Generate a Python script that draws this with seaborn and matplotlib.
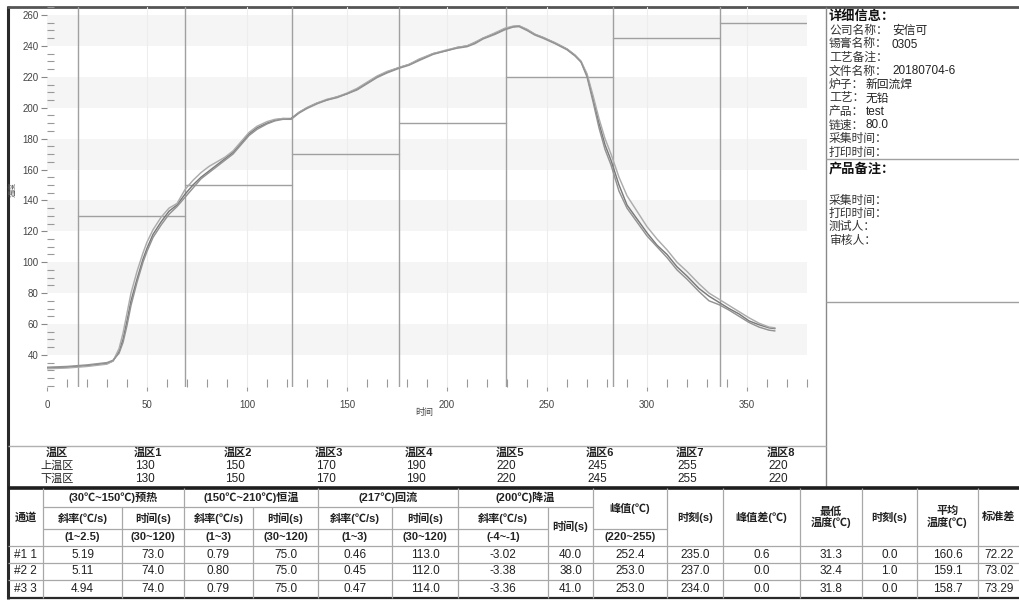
import pandas as pd
import matplotlib
matplotlib.use('Agg')
import matplotlib.pyplot as plt
import seaborn as sns
from matplotlib.ticker import MultipleLocator

sns.set_theme(style='white')
plt.rcParams['font.family'] = ['Liberation Sans', 'Noto Sans CJK SC']

# --- profile data (seconds, deg C) ---
times = [0, 10, 20, 30, 33, 36, 38, 40, 42, 45,
         48, 50, 53, 57, 61, 65, 69, 73, 77, 81,
         85, 89, 93, 97, 101, 105, 110, 114, 118, 122,
         126, 130, 135, 140, 145, 150, 155, 160, 165, 170,
         176, 181, 186, 193, 200, 205, 210, 214, 218, 224,
         229, 233, 236, 240, 244, 248, 254, 260, 264, 267,
         270, 273, 276, 279, 282, 286, 290, 295, 300, 305,
         310, 315, 320, 326, 331, 336, 341, 346, 351, 356,
         361, 364]
ch1_temp = [31.5, 32, 33, 34.5, 36, 42, 50, 62, 75, 89,
            102, 109, 118, 126, 133, 137, 144, 150, 155, 159,
            163, 167, 171, 177, 183, 187, 190, 192, 193, 193,
            197, 200, 203, 205, 207, 209, 212, 216, 220, 223,
            226, 228, 231, 235, 237, 239, 240, 242, 245, 248,
            251, 252.5, 253, 250.5, 247.5, 245.5, 242, 238, 234, 230,
            221, 206, 190, 176, 166, 150, 137, 128, 119, 111,
            105, 97, 91, 83, 78, 74, 70, 66.5, 62, 59.5,
            57.5, 57]
ch2_temp = [31, 31.5, 32.5, 34, 36, 44, 54, 67, 80, 94,
            106, 113, 121, 129, 135, 138, 147, 153, 158, 162,
            165, 168, 172, 178, 184, 188, 191, 192.5, 193, 192.5,
            197, 200, 203, 205.5, 207, 209.5, 212.5, 216.5, 220.5, 223.5,
            226, 228, 231.5, 235, 237.5, 239, 240, 242.5, 245, 248.5,
            251.5, 252.8, 253, 250.8, 247.5, 245.5, 242, 238, 234, 230,
            222, 208, 193, 180, 170, 155, 143, 133, 123, 115,
            108, 100, 94, 86, 80, 76, 72, 68, 64, 60.5,
            58, 57.5]
ch3_temp = [32, 32.5, 33.5, 35, 36.5, 41, 48, 59, 72, 87,
            100, 107, 116, 124, 131, 136, 142, 148, 154, 158,
            162, 166, 170, 176, 182, 186, 189.5, 191.5, 192.5, 192.5,
            196.5, 199.5, 202.5, 205, 206.5, 209, 211.5, 215.5, 219.5, 222.5,
            225.5, 227.5, 230.5, 234.5, 237, 238.5, 239.5, 241.5, 244.5, 247.5,
            250.5, 252.2, 252.5, 250, 247, 245, 241.5, 237.5, 233.5, 229.5,
            220, 204, 187, 173, 163, 146, 135, 126, 117, 110,
            103, 95, 89, 81, 75, 72.5, 69, 65, 61, 58,
            56, 55.5]

# zone boundaries (s) and set temperatures drawn in the chart
zone_bounds = [15.5, 69, 122.5, 176, 229.5, 283, 336.5, 380]
zone_names = ['温区1', '温区2', '温区3', '温区4', '温区5', '温区6', '温区7', '温区8']
upper_zone = [130, 150, 170, 190, 220, 245, 255, 220]
lower_zone = [130, 150, 170, 190, 220, 245, 255, 220]

# result table
channels = ['#1 1', '#2 2', '#3 3']
preheat_slope = [5.19, 5.11, 4.94]
preheat_time = [73.0, 74.0, 74.0]
soak_slope = [0.79, 0.80, 0.79]
soak_time = [75.0, 75.0, 75.0]
reflow_slope = [0.46, 0.45, 0.47]
reflow_time = [113.0, 112.0, 114.0]
cool_slope = [-3.02, -3.38, -3.36]
cool_time = [40.0, 38.0, 41.0]
peak_temp = [252.4, 253.0, 253.0]
peak_time = [235.0, 237.0, 234.0]
peak_diff = [0.6, 0.0, 0.0]
min_temp = [31.3, 32.4, 31.8]
min_time = [0.0, 1.0, 0.0]
avg_temp = [160.6, 159.1, 158.7]
std_dev = [72.22, 73.02, 73.29]

# info panel
info_items = [('公司名称', '安信可'), ('锡膏名称', '0305'), ('工艺备注', ''),
              ('文件名称', '20180704-6'), ('炉子', '新回流焊'), ('工艺', '无铅'),
              ('产品', 'test'), ('链速', '80.0'), ('采集时间', ''), ('打印时间', '')]
note_items = ['采集时间', '打印时间', '测试人', '审核人']

W, H = 1020, 601
fig = plt.figure(figsize=(W / 100, H / 100), dpi=100)
fig.patch.set_facecolor('white')

# pixel-space layer for frame, tables and panel
bg = fig.add_axes([0, 0, 1, 1])
bg.set_xlim(0, W)
bg.set_ylim(H, 0)
bg.axis('off')


def px_rect(x0, y0, x1, y1):
    return [x0 / W, 1 - y1 / H, (x1 - x0) / W, (y1 - y0) / H]


def hline(y, x0, x1, color='#9a9a9a', lw=0.9):
    bg.plot([x0, x1], [y, y], color=color, lw=lw, solid_capstyle='butt')


def vline(x, y0, y1, color='#9a9a9a', lw=0.9):
    bg.plot([x, x], [y0, y1], color=color, lw=lw, solid_capstyle='butt')


# --- profile chart ---
ax = fig.add_axes(px_rect(47, 7, 807, 387))
ax.set_facecolor('none')
ax.set_xlim(0, 380)
ax.set_ylim(19.2, 265.2)

for lo in [40, 80, 120, 160, 200, 240]:
    ax.axhspan(lo, lo + 20, color='#f5f5f5', zorder=0, lw=0)
for gx in range(50, 400, 50):
    ax.axvline(gx, color='#ededed', lw=0.8, zorder=0.5)
for b in zone_bounds[:-1]:
    ax.axvline(b, color='#a0a0a0', lw=1.0, zorder=1)
for i in range(len(zone_bounds) - 1):
    ax.plot([zone_bounds[i], zone_bounds[i + 1]], [upper_zone[i], upper_zone[i]],
            color='#a0a0a0', lw=1.0, zorder=1)

df = pd.DataFrame({
    'time': times * 3,
    'temp': ch1_temp + ch2_temp + ch3_temp,
    'channel': ['#1'] * len(times) + ['#2'] * len(times) + ['#3'] * len(times),
})
sns.lineplot(data=df, x='time', y='temp', hue='channel', estimator=None,
             palette=['#7a7a7a', '#acacac', '#939393'], lw=1.05,
             legend=False, ax=ax, zorder=3)

for s in ax.spines.values():
    s.set_visible(False)
ax.yaxis.set_major_locator(MultipleLocator(20))
ax.yaxis.set_minor_locator(MultipleLocator(5))
ax.xaxis.set_major_locator(MultipleLocator(50))
ax.xaxis.set_minor_locator(MultipleLocator(10))
ax.set_yticks(range(40, 261, 20))
ax.tick_params(axis='y', which='major', direction='out', length=4, width=0.8,
               color='#888', labelsize=7, labelcolor='#444', pad=2, left=True)
ax.tick_params(axis='y', which='minor', direction='in', length=5, width=0.8,
               color='#999', left=True)
ax.tick_params(axis='x', which='major', direction='out', length=3, width=0.8,
               color='#999', labelsize=7, labelcolor='#444', pad=6, bottom=True)
ax.tick_params(axis='x', which='minor', direction='in', length=6, width=0.8,
               color='#999', bottom=True)
ax.set_xlabel('时间', fontsize=6.5, color='#444')
ax.set_ylabel('温度', fontsize=5.5, color='#555')
ax.xaxis.set_label_coords(0.496, -0.055)
ax.yaxis.set_label_coords(-0.04, 0.52)

# --- frame lines ---
vline(8, 6, 599, color='#2a2a2a', lw=2.2)
hline(7, 7, W, color='#555', lw=2.0)
hline(598, 7, W, color='#2a2a2a', lw=1.6)
vline(826, 7, 488, color='#8a8a8a', lw=1.0)
hline(159, 826, W, color='#a0a0a0', lw=1.0)
hline(302, 826, W, color='#a0a0a0', lw=1.0)
hline(446, 8, 826, color='#b0b0b0', lw=1.0)
hline(487.5, 8, W, color='#1e1e1e', lw=2.6)

# --- zone table ---
zone_x = [148 + 90.4 * i for i in range(8)]
row_y = [453, 466, 479]
bg.text(57, row_y[0], '温区', ha='center', va='center', fontsize=8, fontweight='bold', color='#222')
bg.text(57, row_y[1], '上温区', ha='center', va='center', fontsize=8, color='#222')
bg.text(57, row_y[2], '下温区', ha='center', va='center', fontsize=8, color='#222')
for i, name in enumerate(zone_names):
    bg.text(zone_x[i], row_y[0], name, ha='center', va='center', fontsize=8,
            fontweight='bold', color='#222')
    bg.text(zone_x[i] - 3, row_y[1], str(upper_zone[i]), ha='center', va='center',
            fontsize=8.5, color='#222')
    bg.text(zone_x[i] - 3, row_y[2], str(lower_zone[i]), ha='center', va='center',
            fontsize=8.5, color='#222')

# --- results table ---
cb = [8, 43, 122, 184, 253, 318, 392, 458, 548, 593, 667, 723, 800, 862, 917, 978, 1020]
rb = [488, 507, 529, 546, 563, 580, 598]
grid_c = '#a8a8a8'
hline(rb[1], cb[1], cb[9], color=grid_c)
hline(rb[2], cb[1], cb[8], color=grid_c)
hline(rb[2], cb[9], cb[10], color=grid_c)
for y in rb[3:6]:
    hline(y, 8, W, color=grid_c)
for j, x in enumerate(cb[1:-1], start=1):
    y0 = rb[1] if j in (2, 4, 6, 8) else rb[0]
    vline(x, y0, rb[6], color=grid_c)


def cx(j):
    return (cb[j] + cb[j + 1]) / 2


def cy(r0, r1):
    return (rb[r0] + rb[r1]) / 2


hdr = dict(ha='center', va='center', fontsize=8, fontweight='bold', color='#222')
bg.text(cx(0), cy(0, 3), '通道', **hdr)
groups = ['(30℃~150℃)预热', '(150℃~210℃)恒温', '(217℃)回流', '(200℃)降温']
ranges = [('(1~2.5)', '(30~120)'), ('(1~3)', '(30~120)'), ('(1~3)', '(30~120)'), ('(-4~-1)', '')]
for g in range(4):
    j = 1 + 2 * g
    bg.text((cb[j] + cb[j + 2]) / 2, cy(0, 1), groups[g], **hdr)
    bg.text(cx(j), cy(1, 2), '斜率(℃/s)', **hdr)
    bg.text(cx(j), cy(2, 3), ranges[g][0], **hdr)
    if g < 3:
        bg.text(cx(j + 1), cy(1, 2), '时间(s)', **hdr)
        bg.text(cx(j + 1), cy(2, 3), ranges[g][1], **hdr)
    else:
        bg.text(cx(j + 1), cy(1, 3), '时间(s)', **hdr)
bg.text(cx(9), cy(0, 2), '峰值(℃)', **hdr)
bg.text(cx(9), cy(2, 3), '(220~255)', **hdr)
for j, lab in zip(range(10, 16), ['时刻(s)', '峰值差(℃)', '最低\n温度(℃)', '时刻(s)',
                                  '平均\n温度(℃)', '标准差']):
    bg.text(cx(j), cy(0, 3), lab, linespacing=1.0, **hdr)

columns = [preheat_slope, preheat_time, soak_slope, soak_time, reflow_slope,
           reflow_time, cool_slope, cool_time, peak_temp, peak_time, peak_diff,
           min_temp, min_time, avg_temp, std_dev]
fmts = ['.2f', '.1f', '.2f', '.1f', '.2f', '.1f', '.2f', '.1f', '.1f', '.1f',
        '.1f', '.1f', '.1f', '.1f', '.2f']
for r in range(3):
    y = cy(3 + r, 4 + r)
    bg.text(cx(0), y, channels[r], ha='center', va='center', fontsize=8.5, color='#222')
    for j, (col, f) in enumerate(zip(columns, fmts), start=1):
        bg.text(cx(j), y, format(col[r], f), ha='center', va='center',
                fontsize=8.5, color='#222')

# --- info panel ---
bg.text(829, 17, '详细信息：', ha='left', va='center', fontsize=9.5,
        fontweight='bold', color='#111')
for i, (lab, val) in enumerate(info_items):
    y = 31 + 13.5 * i
    bg.text(829, y, lab + '：', ha='left', va='center', fontsize=8.5, color='#333')
    if val:
        bg.text(829 + 13 * len(lab) + 11, y, val, ha='left', va='center',
                fontsize=8.5, color='#222')
bg.text(829, 169, '产品备注：', ha='left', va='center', fontsize=9.5,
        fontweight='bold', color='#111')
for i, lab in enumerate(note_items):
    bg.text(829, 201 + 13.2 * i, lab + '：', ha='left', va='center',
            fontsize=8.5, color='#333')

fig.savefig('out.png', dpi=100, facecolor='white')
